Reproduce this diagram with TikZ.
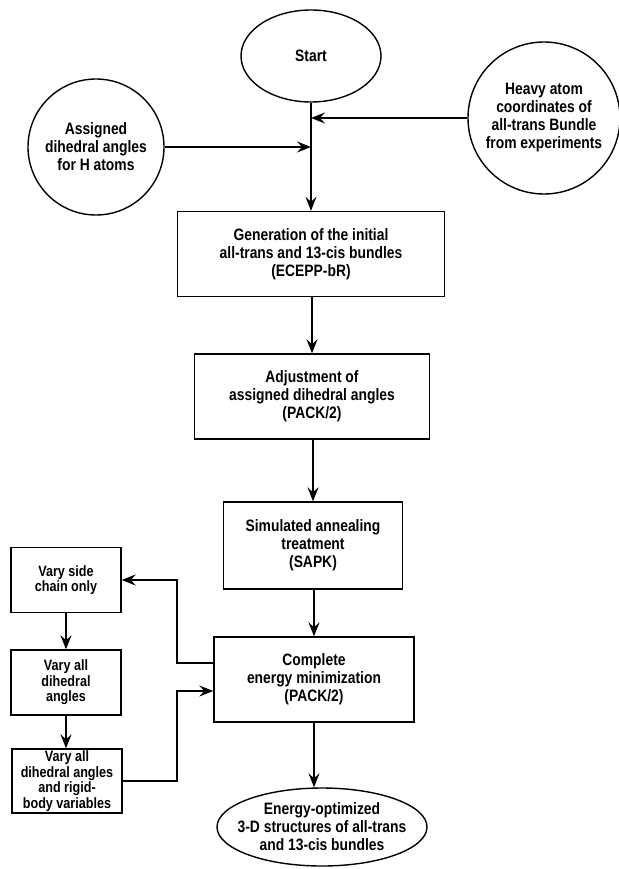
\documentclass[tikz,border=0pt]{standalone}
\usepackage{fontspec}
\setmainfont{Liberation Sans}[FakeStretch=0.84]
\usetikzlibrary{arrows.meta,shapes.geometric}
\begin{document}
\begin{tikzpicture}[x=1pt,y=-1pt,
  every node/.style={font=\bfseries\fontsize{16.5}{18}\selectfont, align=center, line width=1.4pt, inner sep=1pt},
  mainbox/.style={draw, rectangle, minimum height=85pt},
  sidebox/.style={draw, rectangle, minimum width=110pt, minimum height=65pt, font=\bfseries\fontsize{15}{15.5}\selectfont},
  oval/.style={draw, ellipse, inner sep=0pt},
  roundnode/.style={draw, circle, inner sep=0pt},
  arr/.style={line width=1.4pt, -{Stealth[length=14pt,width=11pt,inset=5pt]}}]
\useasboundingbox (0,0) rectangle (618,869);

\node[oval, minimum width=140pt, minimum height=92pt] (start) at (311,56) {Start};
\node[roundnode, minimum size=136pt] (hcirc) at (96,147) {Assigned\\dihedral angles\\for H atoms};
\node[roundnode, minimum size=152pt] (heavy) at (544,118) {Heavy atom\\coordinates of\\all-trans Bundle\\from experiments};

\node[mainbox, minimum width=267pt] (box1) at (311,254) {Generation of the initial\\all-trans and 13-cis bundles\\(ECEPP-bR)};
\node[mainbox, minimum width=235pt] (box2) at (312,396.5) {Adjustment of\\assigned dihedral angles\\(PACK/2)};
\node[mainbox, minimum width=179pt, minimum height=87pt] (box3) at (313,545.5) {Simulated annealing\\treatment\\(SAPK)};
\node[mainbox, minimum width=200pt] (box4) at (314,679.5) {Complete\\energy minimization\\(PACK/2)};
\node[oval, inner xsep=-16pt, inner ysep=-8pt, minimum width=210pt, minimum height=78pt] (final) at (322,827) {Energy-optimized\\3-D structures of all-trans\\and 13-cis bundles};

\node[sidebox] (boxA) at (66,580) {Vary side\\chain only};
\node[sidebox] (boxB) at (66,682.5) {Vary all\\dihedral\\angles};
\node[sidebox, minimum height=64pt] (boxC) at (67,781) {Vary all\\dihedral angles\\and rigid-\\body variables};

\coordinate (busx) at (177,0);
\coordinate (out4) at ([yshift=16.5pt]box4.west);
\coordinate (in4) at ([yshift=-11.5pt]box4.west);

% main trunk
\draw[arr] (start.south) -- (start.south |- box1.north);
\draw[arr] (hcirc.east) -- (hcirc.east -| start.south);
\draw[arr] (heavy.west) -- (heavy.west -| start.south);
\draw[arr] (box1.south -| box2.north) -- (box2.north);
\draw[arr] (box2.south -| box3.north) -- (box3.north);
\draw[arr] (box3.south -| box4.north) -- (box4.north);
\draw[arr] (box4.south) -- (box4.south |- final.north);

% side loop
\draw[arr] (out4) -| (busx |- boxA.east) -- (boxA.east);
\draw[arr] (boxA.south) -- (boxB.north);
\draw[arr] (boxB.south) -- (boxB.south |- boxC.north);
\draw[arr] (boxC.east) -| (busx |- in4) -- (in4);
\end{tikzpicture}
\end{document}
